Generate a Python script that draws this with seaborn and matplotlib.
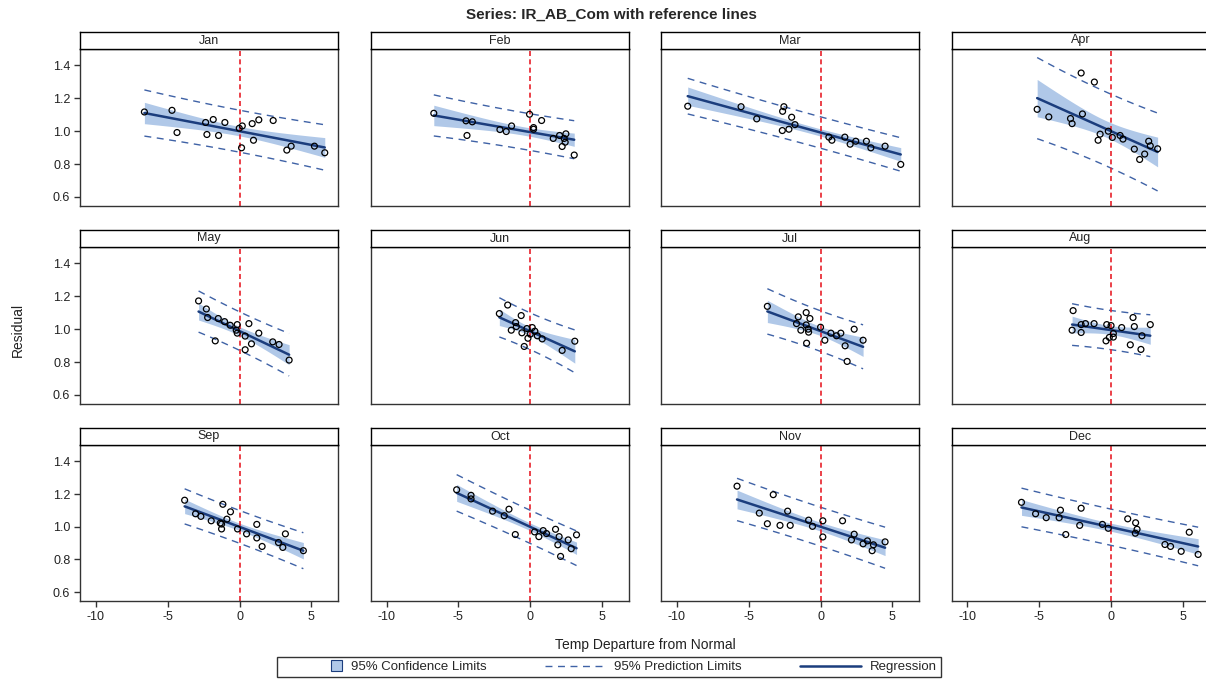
import numpy as np
import pandas as pd
import matplotlib
matplotlib.use("Agg")
import matplotlib.pyplot as plt
import matplotlib.patches as mpatches
from matplotlib.lines import Line2D
from matplotlib.legend_handler import HandlerPatch
from matplotlib.ticker import FormatStrFormatter
import seaborn as sns

# ---------------- data ----------------
MONTHS = ["Jan", "Feb", "Mar", "Apr", "May", "Jun",
          "Jul", "Aug", "Sep", "Oct", "Nov", "Dec"]

JAN_X = [-6.62, -4.70, -4.35, -2.36, -1.83, -1.02, -2.27, -1.46, -0.02, 0.19,
         0.88, 1.34, 2.34, 0.14, 0.97, 3.29, 3.59, 5.21, 5.93]
JAN_Y = [1.117, 1.127, 0.992, 1.053, 1.071, 1.053, 0.980, 0.974, 1.018, 1.032,
         1.046, 1.069, 1.065, 0.899, 0.945, 0.885, 0.909, 0.909, 0.869]

FEB_X = [-6.71, -4.47, -4.03, -4.40, -2.11, -1.67, -1.30, -0.05, 0.23, 0.23,
         0.79, 1.60, 2.04, 2.48, 2.36, 2.43, 2.22, 3.06]
FEB_Y = [1.109, 1.063, 1.057, 0.974, 1.010, 0.998, 1.032, 1.103, 1.022, 1.012,
         1.065, 0.956, 0.974, 0.984, 0.956, 0.933, 0.907, 0.855]

MAR_X = [-9.24, -5.53, -4.44, -2.55, -2.64, -2.01, -1.78, -2.20, -2.66, 0.58,
         0.79, 1.69, 2.06, 2.45, 3.19, 3.50, 4.49, 5.58]
MAR_Y = [1.152, 1.149, 1.075, 1.149, 1.121, 1.085, 1.040, 1.012, 1.004, 0.964,
         0.945, 0.964, 0.921, 0.939, 0.939, 0.899, 0.909, 0.798]

APR_X = [-2.08, -1.16, -5.14, -4.33, -2.82, -2.71, -1.99, -0.76, -0.90, -0.19,
         0.09, 0.63, 0.83, 2.62, 2.73, 1.62, 3.24, 2.34, 1.99]
APR_Y = [1.354, 1.299, 1.133, 1.087, 1.077, 1.046, 1.105, 0.982, 0.945, 1.000,
         0.962, 0.974, 0.952, 0.939, 0.911, 0.891, 0.893, 0.861, 0.828]

MAY_X = [-2.85, -2.31, -2.22, -1.48, -1.04, -0.65, -0.16, -0.23, -0.16, 0.65,
         0.39, 1.34, -1.69, 0.83, 0.39, 2.31, 2.75, 3.45]
MAY_Y = [1.172, 1.123, 1.071, 1.065, 1.046, 1.024, 1.028, 0.994, 0.976, 1.034,
         0.958, 0.976, 0.929, 0.911, 0.875, 0.923, 0.907, 0.812]

JUN_X = [-2.15, -1.57, -0.63, -1.02, -0.97, -1.32, -0.58, -0.23, 0.14, 0.32,
         -0.16, 0.00, 0.49, 0.83, -0.42, 2.22, 3.10]
JUN_Y = [1.095, 1.147, 1.083, 1.040, 1.016, 0.994, 0.978, 1.004, 1.010, 0.988,
         0.945, 0.970, 0.960, 0.941, 0.895, 0.871, 0.927]

JUL_X = [-3.70, -1.55, -1.00, -0.74, -1.67, -1.00, -0.86, -1.37, -0.83, 0.00,
         0.72, 1.11, 1.41, 2.34, 0.30, -0.97, 1.71, 2.96, 1.85]
JUL_Y = [1.139, 1.075, 1.101, 1.065, 1.034, 1.026, 1.000, 0.994, 0.982, 1.012,
         0.976, 0.960, 0.976, 1.000, 0.933, 0.915, 0.899, 0.933, 0.804]

AUG_X = [-2.64, -2.71, -2.08, -2.08, -1.78, -1.18, -0.30, 0.00, 0.74, 1.53,
         1.62, 2.73, 0.16, 0.16, -0.12, -0.35, 1.34, 2.08, 2.15]
AUG_Y = [1.113, 0.994, 0.980, 1.028, 1.034, 1.034, 1.028, 1.022, 1.010, 1.071,
         1.016, 1.028, 0.974, 0.952, 0.950, 0.929, 0.905, 0.877, 0.960]

SEP_X = [-3.82, -3.06, -2.69, -1.16, -0.63, -0.88, -1.97, -1.34, -1.25, -1.25,
         -0.14, 0.49, 1.20, 1.20, 1.57, 2.71, 3.01, 3.19, 4.44]
SEP_Y = [1.162, 1.079, 1.063, 1.137, 1.091, 1.046, 1.036, 1.022, 1.016, 0.986,
         0.986, 0.956, 1.014, 0.931, 0.879, 0.903, 0.873, 0.956, 0.853]

OCT_X = [-5.12, -4.12, -4.12, -2.62, -1.81, -1.48, -1.04, 0.30, 0.60, 0.90,
         1.13, 1.76, 2.01, 2.64, 3.22, 1.92, 2.85, 2.11]
OCT_Y = [1.226, 1.192, 1.170, 1.095, 1.067, 1.107, 0.952, 0.968, 0.939, 0.976,
         0.958, 0.984, 0.939, 0.919, 0.950, 0.889, 0.865, 0.818]

NOV_X = [-5.81, -3.29, -4.26, -2.29, -3.70, -2.82, -2.11, -0.83, -0.56, 0.16,
         0.16, 1.53, 2.34, 2.15, 3.26, 2.96, 3.68, 3.59, 4.49]
NOV_Y = [1.248, 1.196, 1.083, 1.095, 1.018, 1.008, 1.008, 1.040, 1.002, 1.036,
         0.937, 1.036, 0.954, 0.919, 0.913, 0.895, 0.889, 0.853, 0.907]

DEC_X = [-6.23, -5.25, -4.51, -3.52, -3.61, -2.08, -2.18, -3.15, -0.60, -0.19,
         1.16, 1.71, 1.81, 1.69, 3.75, 4.14, 4.88, 5.44, 6.06]
DEC_Y = [1.149, 1.079, 1.055, 1.101, 1.055, 1.113, 1.008, 0.952, 1.014, 0.990,
         1.048, 1.024, 0.984, 0.960, 0.891, 0.879, 0.849, 0.966, 0.830]

X_TICKS = [-10, -5, 0, 5]
Y_TICKS = [0.6, 0.8, 1.0, 1.2, 1.4]

SERIES = [(JAN_X, JAN_Y), (FEB_X, FEB_Y), (MAR_X, MAR_Y), (APR_X, APR_Y),
          (MAY_X, MAY_Y), (JUN_X, JUN_Y), (JUL_X, JUL_Y), (AUG_X, AUG_Y),
          (SEP_X, SEP_Y), (OCT_X, OCT_Y), (NOV_X, NOV_Y), (DEC_X, DEC_Y)]

# Student t 97.5% quantiles by degrees of freedom
T975 = {13: 2.160, 14: 2.145, 15: 2.131, 16: 2.120, 17: 2.110,
        18: 2.101, 19: 2.093, 20: 2.086}

# ---------------- styling ----------------
sns.set_theme(style="ticks")
plt.rcParams['font.family'] = ['Liberation Sans', 'DejaVu Sans']
plt.rcParams['axes.unicode_minus'] = False

CI_COLOR = "#b0c8e8"
PI_COLOR = "#3f62a6"
REG_COLOR = "#1b3d7d"
REF_COLOR = "#e8202a"
FRAME = "#333333"

W, H = 1206, 679
fig = plt.figure(figsize=(W / 100, H / 100), dpi=100)

COL_LEFT = [80, 370.7, 661, 951.5]
PANEL_W = 258
ROWS = [(49, 206), (247, 404), (445, 601)]
STRIP_H = 17

for i, (month, (xs, ys)) in enumerate(zip(MONTHS, SERIES)):
    r, c = divmod(i, 4)
    top, bot = ROWS[r]
    left = COL_LEFT[c]
    ax = fig.add_axes([left / W, 1 - bot / H, PANEL_W / W, (bot - top) / H])
    sax = fig.add_axes([left / W, 1 - top / H, PANEL_W / W, STRIP_H / H])

    x = np.asarray(xs, float)
    y = np.asarray(ys, float)
    n = len(x)
    b1, b0 = np.polyfit(x, y, 1)
    xg = np.linspace(x.min(), x.max(), 80)
    yh = b0 + b1 * xg
    resid = y - (b0 + b1 * x)
    s = np.sqrt(np.sum(resid ** 2) / (n - 2))
    sxx = np.sum((x - x.mean()) ** 2)
    t = T975[n - 2]
    se_m = s * np.sqrt(1 / n + (xg - x.mean()) ** 2 / sxx)
    se_p = s * np.sqrt(1 + 1 / n + (xg - x.mean()) ** 2 / sxx)

    ax.fill_between(xg, yh - t * se_m, yh + t * se_m, color=CI_COLOR, lw=0, zorder=1)
    sns.lineplot(x=xg, y=yh + t * se_p, ax=ax, color=PI_COLOR, lw=1,
                 linestyle=(0, (5, 4)), zorder=2)
    sns.lineplot(x=xg, y=yh - t * se_p, ax=ax, color=PI_COLOR, lw=1,
                 linestyle=(0, (5, 4)), zorder=2)
    ax.axvline(0, color=REF_COLOR, lw=1.2, ls=(0, (3, 2)), zorder=2.5)
    sns.lineplot(x=xg, y=yh, ax=ax, color=REG_COLOR, lw=1.8, zorder=3)
    sns.scatterplot(x=x, y=y, ax=ax, marker='o', s=18, zorder=4)
    pts = ax.collections[-1]
    pts.set_facecolor('none')
    pts.set_edgecolor('black')
    pts.set_linewidth(0.9)

    ax.set_xlim(-11.1, 6.85)
    ax.set_ylim(0.545, 1.5)
    ax.set_xticks(X_TICKS)
    ax.set_yticks(Y_TICKS)
    ax.yaxis.set_major_formatter(FormatStrFormatter('%.1f'))
    ax.set_xlabel('')
    ax.set_ylabel('')
    ax.tick_params(direction='out', length=4, width=1, color=FRAME,
                   labelsize=9, labelcolor='#222222', pad=3)
    ax.tick_params(axis='y', left=(c == 0), labelleft=(c == 0))
    ax.tick_params(axis='x', bottom=(r == 2), labelbottom=(r == 2))
    for sp in ax.spines.values():
        sp.set_visible(True)
        sp.set_color(FRAME)
        sp.set_linewidth(1.0)

    sax.set_xticks([])
    sax.set_yticks([])
    sax.set_facecolor('white')
    for sp in sax.spines.values():
        sp.set_visible(True)
        sp.set_color('black')
        sp.set_linewidth(1.0)
    sax.text(0.5, 0.5, month, ha='center', va='center', fontsize=9,
             color='#222222', transform=sax.transAxes)

fig.text(611 / W, 1 - 15 / H, "Series: IR_AB_Com with reference lines",
         ha='center', va='center', fontsize=11, fontweight='bold')
fig.text(18 / W, 1 - 330 / H, "Residual", rotation=90, ha='center', va='center',
         fontsize=10, color='#222222')
fig.text(645 / W, 1 - 645 / H, "Temp Departure from Normal", ha='center',
         va='center', fontsize=10, color='#222222')


def small_square(legend, orig_handle, xdescent, ydescent, width, height, fontsize):
    side = height * 1.1
    return mpatches.Rectangle((width - side - xdescent, -ydescent - 0.05 * height),
                              side, side)


handles = [
    mpatches.Patch(facecolor=CI_COLOR, edgecolor=REG_COLOR, linewidth=0.8),
    Line2D([], [], color=PI_COLOR, lw=1, linestyle=(0, (5, 4))),
    Line2D([], [], color=REG_COLOR, lw=1.8),
]
labels = ["95% Confidence Limits", "95% Prediction Limits", "Regression"]
leg = fig.legend(handles, labels, loc='center', bbox_to_anchor=(609 / W, 1 - 667 / H),
                 ncol=3, frameon=True, fontsize=9.5, handlelength=4.6,
                 columnspacing=4.4, handletextpad=0.7, borderpad=0.3,
                 borderaxespad=0, fancybox=False, edgecolor='black',
                 handler_map={mpatches.Patch: HandlerPatch(patch_func=small_square)})
leg.get_frame().set_linewidth(1.0)

fig.savefig("out.png", dpi=100)
